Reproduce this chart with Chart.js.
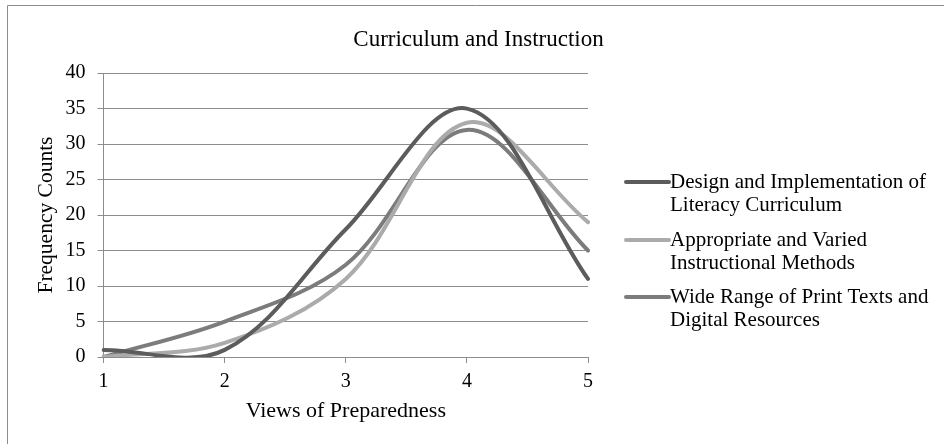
<!DOCTYPE html>
<html>
<head>
<meta charset="utf-8">
<script src="https://cdn.jsdelivr.net/npm/chart.js@4/dist/chart.umd.min.js"></script>
<style>
html,body{margin:0;padding:0;background:#fff;}
#wrap{position:relative;width:944px;height:444px;}
</style>
</head>
<body>
<div id="wrap"><canvas id="c" width="944" height="444"></canvas></div>
<script>
const categories = ['1', '2', '3', '4', '5'];
const seriesNames = [
  ['Design and Implementation of', 'Literacy Curriculum'],
  ['Appropriate and Varied', 'Instructional Methods'],
  ['Wide Range of Print Texts and', 'Digital Resources']
];
const designImplementation = [1, 1, 18, 35, 11];
const appropriateVaried = [0, 2, 11, 33, 19];
const wideRange = [0, 5, 13, 32, 15];
const seriesColors = ['#5c5c5c', '#ababab', '#7c7c7c'];

const FONT = "'Liberation Serif', 'Times New Roman', serif";

const borderPlugin = {
  id: 'outerBorder',
  beforeDraw(chart) {
    const ctx = chart.ctx;
    ctx.save();
    ctx.fillStyle = '#fff';
    ctx.fillRect(0, 0, chart.width, chart.height);
    ctx.strokeStyle = '#8c8c8c';
    ctx.lineWidth = 1;
    ctx.beginPath();
    ctx.moveTo(7.5, chart.height);
    ctx.lineTo(7.5, 5.5);
    ctx.lineTo(chart.width, 5.5);
    ctx.stroke();
    ctx.restore();
  }
};

// Right-side legend box that reserves layout space and draws two-line labels
const legendBoxPlugin = {
  id: 'sideLegend',
  beforeInit(chart) {
    const box = {
      position: 'right',
      weight: 1000,
      fullSize: false,
      options: {},
      left: 0, top: 0, right: 0, bottom: 0, width: 0, height: 0,
      isHorizontal() { return false; },
      update(maxWidth, maxHeight) { this.width = 356; this.height = maxHeight; },
      getPadding() { return { left: 0, right: 0, top: 0, bottom: 0 }; },
      draw() {
        const ctx = chart.ctx;
        ctx.save();
        ctx.font = '21px ' + FONT;
        ctx.textBaseline = 'middle';
        ctx.textAlign = 'left';
        const x0 = chart.chartArea.right + 38, x1 = x0 + 43;
        const starts = [182, 240, 297];
        chart.data.datasets.forEach((ds, i) => {
          const y = starts[i];
          ctx.strokeStyle = ds.borderColor;
          ctx.lineWidth = 4;
          ctx.lineCap = 'round';
          ctx.beginPath();
          ctx.moveTo(x0, y);
          ctx.lineTo(x1, y);
          ctx.stroke();
          ctx.fillStyle = '#000';
          ds.label.forEach((line, j) => ctx.fillText(line, x1 + 1, y + j * 23));
        });
        ctx.restore();
      }
    };
    Chart.layouts.addBox(chart, box);
  }
};

new Chart(document.getElementById('c'), {
  type: 'line',
  data: {
    labels: categories,
    datasets: [
      { label: seriesNames[0], data: designImplementation, borderColor: seriesColors[0] },
      { label: seriesNames[1], data: appropriateVaried, borderColor: seriesColors[1] },
      { label: seriesNames[2], data: wideRange, borderColor: seriesColors[2] }
    ].map(d => Object.assign(d, { borderWidth: 4, pointRadius: 0, tension: 0.35, fill: false, borderCapStyle: 'round', capBezierPoints: false }))
  },
  options: {
    responsive: false,
    animation: false,
    devicePixelRatio: 1,
    layout: { padding: { left: 13, right: 0, top: 0, bottom: 0 } },
    plugins: {
      legend: { display: false },
      tooltip: { enabled: false },
      title: {
        display: true,
        text: 'Curriculum and Instruction',
        color: '#000',
        font: { family: FONT, size: 23, weight: 'normal' },
        padding: { top: 26, bottom: 19.5 }
      }
    },
    scales: {
      x: {
        offset: false,
        grid: { drawOnChartArea: false, color: '#8c8c8c', tickLength: 6, tickColor: '#8c8c8c' },
        border: { color: '#8c8c8c', width: 1 },
        ticks: { color: '#000', font: { family: FONT, size: 20 }, padding: 7, maxRotation: 0 },
        title: { display: true, text: 'Views of Preparedness', color: '#000', font: { family: FONT, size: 22 }, padding: { top: -3.4, bottom: 20 } }
      },
      y: {
        min: 0, max: 40,
        ticks: { stepSize: 5, color: '#000', font: { family: FONT, size: 20 }, padding: 12 },
        grid: { color: '#8c8c8c', tickLength: 6, lineWidth: 1 },
        border: { color: '#8c8c8c', width: 1 },
        title: { display: true, text: 'Frequency Counts', color: '#000', font: { family: FONT, size: 21.5 }, padding: { top: 20.4, bottom: -5.6 } }
      }
    }
  },
  plugins: [borderPlugin, legendBoxPlugin]
});
</script>
</body>
</html>
